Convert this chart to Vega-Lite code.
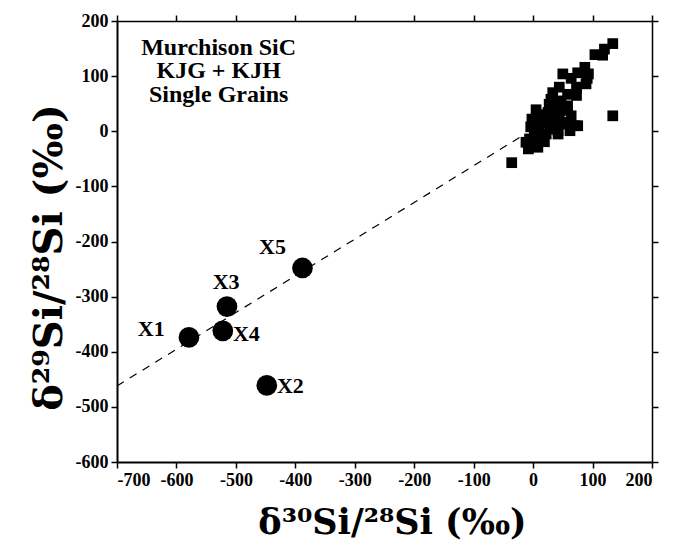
{
  "$schema": "https://vega.github.io/schema/vega-lite/v6.json",
  "autosize": "none",
  "width": 535,
  "height": 441,
  "padding": {"left": 117, "top": 21, "right": 34, "bottom": 95},
  "background": "white",
  "config": {
    "view": {"stroke": null},
    "axis": {
      "grid": false,
      "domainColor": "black",
      "tickColor": "black",
      "labelColor": "black",
      "titleColor": "black",
      "labelFont": "Liberation Serif",
      "labelFontWeight": "bold",
      "labelFontSize": 18,
      "titleFont": "DejaVu Serif",
      "titleFontWeight": "bold"
    }
  },
  "datasets": {
    "squares": [
      {"x": 134, "y": 159}, {"x": 120, "y": 149}, {"x": 104, "y": 139}, {"x": 117, "y": 138},
      {"x": 87, "y": 116}, {"x": 75, "y": 106}, {"x": 50, "y": 104}, {"x": 91, "y": 96},
      {"x": 64, "y": 96}, {"x": 89, "y": 86}, {"x": 44, "y": 80}, {"x": 73, "y": 80},
      {"x": 58, "y": 67}, {"x": 73, "y": 65}, {"x": 30, "y": 58}, {"x": 47, "y": 55},
      {"x": 58, "y": 46}, {"x": 36, "y": 44}, {"x": 5, "y": 39}, {"x": 25, "y": 34},
      {"x": 44, "y": 31}, {"x": 64, "y": 28}, {"x": -2, "y": 22}, {"x": 16, "y": 22},
      {"x": 36, "y": 19}, {"x": 53, "y": 16}, {"x": 70, "y": 10}, {"x": 8, "y": 10},
      {"x": 28, "y": 8}, {"x": 42, "y": 1}, {"x": 62, "y": 1}, {"x": 75, "y": 10},
      {"x": 2, "y": 1}, {"x": 22, "y": -5}, {"x": 42, "y": -5}, {"x": -6, "y": -14},
      {"x": 14, "y": -11}, {"x": -8, "y": -32}, {"x": 8, "y": -29}, {"x": 19, "y": -19},
      {"x": 0, "y": -23}, {"x": -36, "y": -57}, {"x": 134, "y": 28}, {"x": 34, "y": 41},
      {"x": 53, "y": 38}, {"x": 33, "y": 70}, {"x": 27, "y": 49}, {"x": 14, "y": 28},
      {"x": 22, "y": 16}, {"x": 2, "y": 16}, {"x": 47, "y": 13}, {"x": 30, "y": 4},
      {"x": -12, "y": -20}, {"x": 4, "y": -8}, {"x": 93, "y": 104}, {"x": -4, "y": 8},
      {"x": 10, "y": 2}, {"x": 20, "y": 30}, {"x": 40, "y": 22}
    ],
    "grains": [
      {"name": "X1", "x": -579, "y": -374, "lx": -665, "ly": -371},
      {"name": "X2", "x": -448, "y": -461, "lx": -431, "ly": -475},
      {"name": "X3", "x": -515, "y": -318, "lx": -539, "ly": -286},
      {"name": "X4", "x": -522, "y": -362, "lx": -505, "ly": -380},
      {"name": "X5", "x": -388, "y": -248, "lx": -461, "ly": -223}
    ],
    "fit": [{"x": -700, "y": -462}, {"x": -18, "y": -8}],
    "caption": [
      {"text": "Murchison SiC", "x": -529, "y": 139},
      {"text": "KJG + KJH", "x": -529, "y": 96},
      {"text": "Single Grains", "x": -529, "y": 53}
    ]
  },
  "resolve": {"axis": {"x": "independent", "y": "independent"}},
  "layer": [
    {
      "mark": {"type": "rule", "color": "black", "strokeWidth": 1},
      "encoding": {"y": {"datum": 0, "type": "quantitative", "scale": {"domain": [-600, 200], "nice": false}, "axis": null}}
    },
    {
      "mark": {"type": "rule", "color": "black", "strokeWidth": 1},
      "encoding": {"x": {"datum": 0, "type": "quantitative", "scale": {"domain": [-700, 200], "nice": false}, "axis": null}}
    },
    {
      "data": {"name": "fit"},
      "mark": {"type": "line", "color": "black", "strokeWidth": 1.2, "strokeDash": [8, 7]},
      "encoding": {
        "x": {"field": "x", "type": "quantitative", "scale": {"domain": [-700, 200], "nice": false},
          "axis": {"orient": "top", "values": [-700, -600, -500, -400, -300, -200, -100, 0, 100, 200], "labels": false, "title": null, "tickSize": 6, "tickWidth": 1.5, "domainWidth": 1.5}},
        "y": {"field": "y", "type": "quantitative", "scale": {"domain": [-600, 200], "nice": false},
          "axis": {"orient": "right", "values": [-600, -500, -400, -300, -200, -100, 0, 100, 200], "labels": false, "title": null, "tickSize": 6, "tickWidth": 1.5, "domainWidth": 1.5}}
      }
    },
    {
      "data": {"name": "squares"},
      "mark": {"type": "point", "shape": "square", "filled": true, "color": "black", "size": 115, "opacity": 1},
      "encoding": {
        "x": {"field": "x", "type": "quantitative", "scale": {"domain": [-700, 200], "nice": false},
          "axis": {"orient": "bottom", "values": [-700, -600, -500, -400, -300, -200, -100, 0, 100, 200], "labelExpr": "'' + datum.value", "tickSize": 6, "tickWidth": 1.5, "domainWidth": 2, "labelPadding": 3,
            "title": "δ³⁰Si/²⁸Si (‰)", "titleFontSize": 35, "titlePadding": 16, "titleX": 275}},
        "y": {"field": "y", "type": "quantitative", "scale": {"domain": [-600, 200], "nice": false},
          "axis": {"orient": "left", "values": [-600, -500, -400, -300, -200, -100, 0, 100, 200], "labelExpr": "'' + datum.value", "tickSize": 6, "tickWidth": 1.5, "domainWidth": 2, "labelPadding": 3,
            "title": "δ²⁹Si/²⁸Si (‰)", "titleFontSize": 40, "titlePadding": 6, "titleY": 236}}
      }
    },
    {
      "data": {"name": "grains"},
      "mark": {"type": "point", "shape": "circle", "filled": true, "color": "black", "size": 430, "opacity": 1},
      "encoding": {
        "x": {"field": "x", "type": "quantitative", "scale": {"domain": [-700, 200], "nice": false}, "axis": null},
        "y": {"field": "y", "type": "quantitative", "scale": {"domain": [-600, 200], "nice": false}, "axis": null}
      }
    },
    {
      "data": {"name": "grains"},
      "mark": {"type": "text", "font": "Liberation Serif", "fontWeight": "bold", "fontSize": 22, "align": "left", "baseline": "alphabetic", "color": "black"},
      "encoding": {
        "x": {"field": "lx", "type": "quantitative", "scale": {"domain": [-700, 200], "nice": false}, "axis": null},
        "y": {"field": "ly", "type": "quantitative", "scale": {"domain": [-600, 200], "nice": false}, "axis": null},
        "text": {"field": "name"}
      }
    },
    {
      "data": {"name": "caption"},
      "mark": {"type": "text", "font": "Liberation Serif", "fontWeight": "bold", "fontSize": 24, "align": "center", "baseline": "alphabetic", "color": "black"},
      "encoding": {
        "x": {"field": "x", "type": "quantitative", "scale": {"domain": [-700, 200], "nice": false}, "axis": null},
        "y": {"field": "y", "type": "quantitative", "scale": {"domain": [-600, 200], "nice": false}, "axis": null},
        "text": {"field": "text"}
      }
    }
  ]
}
